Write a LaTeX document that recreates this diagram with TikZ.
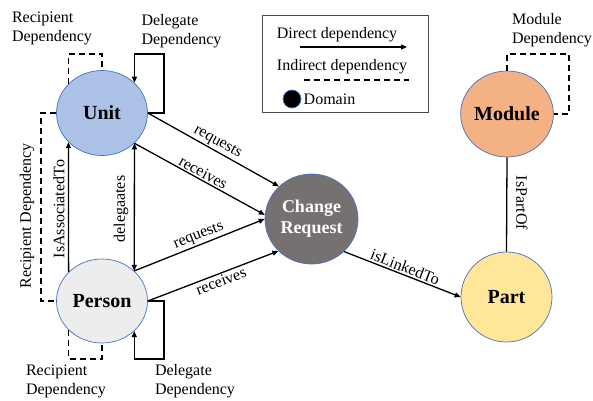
\documentclass[tikz,border=0pt]{standalone}
\usepackage{fontspec}
\setmainfont{Liberation Serif}
\usetikzlibrary{shapes.geometric,arrows.meta}
\definecolor{azulUnit}{HTML}{ABC2E6}
\definecolor{grisPerson}{HTML}{EDEDED}
\definecolor{grisCambio}{HTML}{767171}
\definecolor{naranjaModulo}{HTML}{F4B183}
\definecolor{amarilloParte}{HTML}{FFE699}
\definecolor{bordeDominio}{HTML}{4472C4}
\begin{document}
\begin{tikzpicture}[x=1pt,y=-1pt]
\tikzset{
    dominio/.style={ellipse, draw=bordeDominio, line width=0.7pt, inner sep=0pt, align=center, font=\fontsize{20}{22}\selectfont\bfseries},
    etiqueta/.style={text centered, inner sep=1.5pt, font=\fontsize{16}{19}\selectfont},
    directa/.style={line width=1.3pt, -{Triangle[length=6pt,width=5pt]}},
    doble/.style={line width=1.3pt, {Triangle[length=6pt,width=5pt]}-{Triangle[length=6pt,width=5pt]}},
    indirecta/.style={line width=1.3pt, dash pattern=on 6pt off 4pt}
}
\useasboundingbox (0,0) rectangle (593,400);
\node[dominio, fill=azulUnit, minimum width=91pt, minimum height=85pt] (unit) at (102,113) {Unit};
\node[dominio, fill=grisPerson, minimum width=91pt, minimum height=84pt] (person) at (102,301) {Person};
\node[dominio, fill=grisCambio, text=white, minimum width=93pt, minimum height=90pt, font=\fontsize{18}{21}\selectfont\bfseries] (cambio) at (311.5,219) {Change\\Request};
\node[dominio, fill=naranjaModulo, minimum width=92pt, minimum height=86pt] (modulo) at (507,114) {Module};
\node[dominio, fill=amarilloParte, minimum width=91pt, minimum height=90pt] (parte) at (506.5,297) {Part};
\draw[directa] (unit.east) -- node[etiqueta, sloped, above] (lblPideU) {requests} (cambio.135);
\draw[directa] (unit.-43) -- node[etiqueta, sloped, above] (lblRecibeU) {receives} (cambio.175);
\draw[directa] (person.43) -- node[etiqueta, sloped, above, pos=0.52] (lblPideP) {requests} (cambio.west);
\draw[directa] (person.east) -- node[etiqueta, sloped, below, pos=0.54] (lblRecibeP) {receives} (cambio.-136);
\draw[directa] (cambio.-45) -- node[etiqueta, sloped, above] (lblEnlace) {isLinkedTo} (parte.west);
\draw[doble] (unit.-43) -- (person.43);
\draw[directa] (person.139) -- (unit.221);
\draw[line width=1.3pt] (modulo.south) -- (parte.north);
\node[etiqueta, rotate=90] (lblDelega) at (121,209) {delegaates};
\node[etiqueta, rotate=90] (lblAsocia) at (59,209) {IsAssociatedTo};
\node[etiqueta, rotate=-90] (lblParteDe) at (522,203) {IsPartOf};
\draw[directa] (unit.east) -| (164,54) -| (unit.43);
\draw[indirecta] (unit.139) |- (102,54) -- (unit.north);
\draw[indirecta] (unit.west) -- (41,113) |- (person.west);
\draw[directa] (person.east) -| (164,359) -| (person.-43);
\draw[indirecta] (person.-139) |- (102,359) -- (person.south);
\draw[indirecta] (modulo.north) |- (569,54) |- (modulo.east);
\node[etiqueta, align=left] (lblRecU) at (52,28) {Recipient\\Dependency};
\node[etiqueta, align=left] (lblDelU) at (181.5,31) {Delegate\\Dependency};
\node[etiqueta, rotate=90] (lblRecIzq) at (27,216) {Recipient Dependency};
\node[etiqueta, align=left] (lblRecP) at (66,381) {Recipient\\Dependency};
\node[etiqueta, align=left] (lblDelP) at (195,381) {Delegate\\Dependency};
\node[etiqueta, align=left] (lblModulo) at (552,30) {Module\\Dependency};
\draw[line width=0.8pt, draw=black!70] (262,15) rectangle (428,112);
\node[etiqueta] (leyDirecta) at (337,35) {Direct dependency};
\coordinate (dirIni) at (300,47);
\coordinate (dirFin) at (407,47);
\draw[directa] (dirIni) -- (dirFin);
\node[etiqueta] (leyIndirecta) at (342,67) {Indirect dependency};
\coordinate (indIni) at (304,80);
\coordinate (indFin) at (409,80);
\draw[indirecta] (indIni) -- (indFin);
\node[circle, fill=black, draw=bordeDominio, line width=0.7pt, minimum size=18pt, inner sep=0pt] (puntoLey) at (292,99) {};
\node[etiqueta, anchor=west] (leyDominio) at (302,99) {Domain};
\end{tikzpicture}
\end{document}
